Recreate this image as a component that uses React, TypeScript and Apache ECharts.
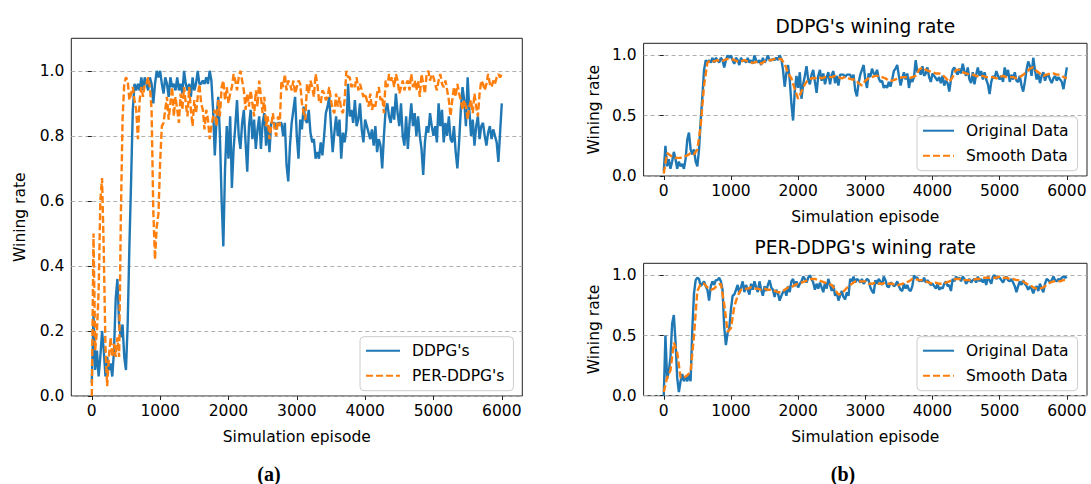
import React, { useEffect, useRef } from "react";
import * as echarts from "echarts";

// ---------- data ----------
const RAW_STEP = 25; // episodes between raw samples
const SMOOTH_STEP = 50; // episodes between smooth samples

const ddpgRate = [
  0.04, 0.25, 0.08, 0.14, 0.06, 0.12, 0.2, 0.14, 0.06, 0.12, 0.08, 0.1, 0.06, 0.14, 0.3, 0.36, 0.22, 0.18, 0.22, 0.12,
  0.08, 0.22, 0.46, 0.66, 0.88, 0.96, 0.94, 0.96, 0.94, 0.98, 0.94, 0.98, 0.96, 0.94, 0.98, 0.96, 0.9, 0.96, 1.0, 0.98,
  1.0, 0.96, 0.93, 0.98, 0.96, 0.92, 0.98, 0.95, 0.96, 0.94, 0.98, 0.94, 0.96, 0.93, 1.0, 0.96, 0.94, 0.96, 0.92, 0.98,
  0.94, 0.96, 1.0, 0.96, 0.96, 0.97, 0.96, 0.98, 0.96, 1.0, 0.97, 0.88, 0.74, 0.85, 0.92, 0.8, 0.6, 0.46, 0.7, 0.83,
  0.73, 0.86, 0.64, 0.76, 0.83, 0.91, 0.8, 0.76, 0.84, 0.88, 0.78, 0.69, 0.83, 0.88, 0.79, 0.85, 0.76, 0.82, 0.86, 0.76,
  0.84, 0.87, 0.77, 0.83, 0.75, 0.84, 0.84, 0.84, 0.82, 0.84, 0.84, 0.84, 0.8, 0.84, 0.71, 0.66, 0.77, 0.84, 0.88, 0.92,
  0.8, 0.73, 0.85, 0.82, 0.89, 0.85, 0.84, 0.88, 0.81, 0.78, 0.79, 0.73, 0.75, 0.73, 0.78, 0.74, 0.8, 0.87, 0.89, 0.92,
  0.83, 0.75, 0.81, 0.86, 0.8, 0.85, 0.73, 0.81, 0.78, 0.82, 0.96, 0.86, 0.88, 0.84, 0.91, 0.83, 0.85, 0.9, 0.82, 0.78,
  0.85, 0.83, 0.81, 0.79, 0.82, 0.77, 0.83, 0.75, 0.79, 0.77, 0.7, 0.8, 0.88, 0.9, 0.86, 0.84, 0.89, 0.85, 0.93, 0.87,
  0.83, 0.9, 0.8, 0.77, 0.86, 0.76, 0.84, 0.9, 0.83, 0.87, 0.8, 0.86, 0.8, 0.76, 0.68, 0.78, 0.83, 0.81, 0.87, 0.83,
  0.8, 0.83, 0.78, 0.9, 0.83, 0.88, 0.78, 0.84, 0.8, 0.86, 0.79, 0.78, 0.83, 0.75, 0.7, 0.78, 0.88, 0.95, 0.91, 0.83,
  0.98, 0.88, 0.8, 0.85, 0.77, 0.83, 0.86, 0.79, 0.83, 0.84, 0.8, 0.77, 0.81, 0.83, 0.79, 0.82, 0.8, 0.78, 0.72, 0.81,
  0.9,
];

const perRate = [
  0.0, 0.5, 0.14, 0.2, 0.32, 0.6, 0.67, 0.45, 0.15, 0.03, 0.12, 0.18, 0.12, 0.16, 0.12, 0.18, 0.12, 0.55, 0.85, 0.96,
  0.98, 0.97, 0.91, 0.93, 0.95, 0.91, 0.88, 0.79, 0.91, 0.95, 0.92, 0.96, 0.96, 0.98, 0.95, 0.88, 0.57, 0.42, 0.52, 0.56,
  0.72, 0.83, 0.84, 0.88, 0.92, 0.85, 0.9, 0.95, 0.86, 0.92, 0.88, 0.84, 0.93, 0.88, 0.95, 0.9, 0.86, 0.95, 0.88, 0.83,
  0.91, 0.87, 0.92, 0.96, 0.9, 0.88, 0.82, 0.88, 0.85, 0.79, 0.83, 0.86, 0.88, 0.83, 0.91, 0.86, 0.95, 0.97, 0.91, 0.95,
  0.9, 0.93, 0.95, 0.99, 0.97, 0.94, 0.98, 1.0, 0.97, 0.94, 0.88, 0.93, 0.89, 0.94, 0.9, 0.86, 0.94, 0.89, 0.97, 0.92,
  0.87, 0.92, 0.83, 0.86, 0.79, 0.83, 0.87, 0.82, 0.8, 0.86, 0.83, 0.97, 0.95, 0.99, 0.94, 0.97, 0.96, 0.94, 0.97, 0.93,
  0.95, 0.97, 0.96, 0.9, 0.87, 0.85, 0.96, 0.93, 0.97, 0.95, 0.92, 0.99, 0.96, 0.91, 0.9, 0.94, 0.93, 0.91, 0.92, 0.95,
  0.91, 0.88, 0.87, 0.93, 0.89, 0.92, 0.88, 0.87, 0.91, 1.0, 0.98, 0.98, 0.95, 0.96, 0.95, 0.98, 0.94, 0.96, 0.94, 0.92,
  0.93, 0.91, 0.89, 0.93, 0.88, 0.9, 0.89, 0.93, 0.95, 0.91, 0.92, 0.87, 0.97, 0.95, 0.99, 0.97, 0.98, 0.95, 0.99, 0.97,
  0.93, 0.95, 0.97, 0.94, 0.96, 0.97, 0.94, 0.99, 0.95, 0.97, 0.94, 0.97, 0.92, 0.99, 0.96, 0.93, 0.99, 1.0, 0.97, 0.99,
  0.98, 0.96, 0.94, 0.97, 0.99, 0.96, 0.95, 0.97, 0.94, 0.91, 0.86, 0.91, 0.95, 0.92, 0.96, 0.93, 0.91, 0.88, 0.91, 0.89,
  0.85, 0.89, 0.91, 0.87, 0.93, 0.89, 0.86, 0.93, 0.97, 0.96, 0.94, 0.96, 0.99, 0.96, 0.95, 0.97, 0.96, 0.98, 0.99, 0.98,
  0.99,
];

const ddpgSmooth = [
  0.02, 0.19, 0.17, 0.15, 0.15, 0.15, 0.16, 0.17, 0.19, 0.18, 0.22, 0.42, 0.75, 0.94, 0.96, 0.95, 0.96, 0.95, 0.96, 0.97,
  0.97, 0.96, 0.95, 0.95, 0.96, 0.95, 0.94, 0.94, 0.95, 0.93, 0.95, 0.96, 0.96, 0.97, 0.97, 0.97, 0.93, 0.85, 0.81, 0.72,
  0.64, 0.7, 0.76, 0.8, 0.81, 0.81, 0.82, 0.81, 0.82, 0.82, 0.82, 0.83, 0.82, 0.81, 0.82, 0.81, 0.8, 0.8, 0.77, 0.75,
  0.79, 0.81, 0.82, 0.83, 0.83, 0.82, 0.81, 0.79, 0.79, 0.8, 0.81, 0.82, 0.82, 0.81, 0.82, 0.83, 0.88, 0.9, 0.88, 0.87,
  0.86, 0.85, 0.85, 0.84, 0.81, 0.78, 0.82, 0.88, 0.88, 0.86, 0.85, 0.84, 0.84, 0.83, 0.82, 0.83, 0.82, 0.82, 0.82, 0.81,
  0.82, 0.83, 0.82, 0.82, 0.82, 0.81, 0.82, 0.84, 0.86, 0.89, 0.9, 0.87, 0.85, 0.83, 0.84, 0.85, 0.85, 0.84, 0.84, 0.82,
  0.81,
];

const perSmooth = [
  0.03, 0.15, 0.21, 0.44, 0.36, 0.15, 0.15, 0.17, 0.2, 0.5, 0.87, 0.93, 0.93, 0.9, 0.88, 0.89, 0.92, 0.93, 0.76, 0.53,
  0.56, 0.74, 0.83, 0.88, 0.89, 0.89, 0.9, 0.89, 0.89, 0.88, 0.89, 0.88, 0.88, 0.87, 0.86, 0.86, 0.88, 0.9, 0.9, 0.92,
  0.93, 0.94, 0.95, 0.96, 0.97, 0.97, 0.96, 0.95, 0.94, 0.93, 0.92, 0.88, 0.84, 0.85, 0.88, 0.91, 0.93, 0.95, 0.95, 0.95,
  0.95, 0.93, 0.93, 0.94, 0.93, 0.93, 0.94, 0.93, 0.93, 0.92, 0.92, 0.93, 0.94, 0.95, 0.97, 0.97, 0.96, 0.96, 0.95, 0.94,
  0.93, 0.94, 0.93, 0.93, 0.94, 0.95, 0.96, 0.97, 0.97, 0.96, 0.96, 0.96, 0.96, 0.97, 0.97, 0.98, 0.98, 0.98, 0.98, 0.98,
  0.99, 0.98, 0.98, 0.97, 0.97, 0.96, 0.96, 0.95, 0.93, 0.92, 0.9, 0.89, 0.89, 0.9, 0.92, 0.94, 0.95, 0.95, 0.95, 0.96,
  0.96,
];

const xTicks = [0, 1000, 2000, 3000, 4000, 5000, 6000];
const yTicksLeft = [0, 0.2, 0.4, 0.6, 0.8, 1.0];
const yTicksRight = [0, 0.5, 1.0];

const leftLegend = ["DDPG's", "PER-DDPG's"];
const rightLegend = ["Original Data", "Smooth Data"];

// ---------- styling ----------
const FONT = "DejaVu Sans";
const FS = 15.5;
const BLUE = "#1f77b4";
const ORANGE = "#ff7f0e";
const INK = "#222222";
const LW = 2.4;

const toPairs = (vals: number[], step: number) => vals.map((v, i) => [i * step, v]);

function xAxisFor(gridIndex: number) {
  return {
    gridIndex,
    type: "value",
    min: -300,
    max: 6300,
    name: "Simulation episode",
    nameLocation: "middle",
    nameGap: 33,
    nameTextStyle: { fontFamily: FONT, fontSize: FS, color: "#000" },
    axisLine: { show: false },
    axisTick: { show: true, inside: false, length: 4, lineStyle: { color: INK, width: 1 }, customValues: xTicks },
    axisLabel: {
      customValues: xTicks,
      fontFamily: FONT,
      fontSize: FS,
      color: "#000",
      margin: 7,
      formatter: (v: number) => String(v),
    },
    splitLine: { show: false },
  };
}

function yAxisFor(gridIndex: number, ticks: number[], nameGap: number) {
  return {
    gridIndex,
    type: "value",
    min: 0,
    max: 1.1,
    name: "Wining rate",
    nameLocation: "middle",
    nameRotate: 90,
    nameGap,
    nameTextStyle: { fontFamily: FONT, fontSize: FS, color: "#000" },
    axisLine: { show: false },
    axisTick: { show: true, inside: false, length: 4, lineStyle: { color: INK, width: 1 }, customValues: ticks },
    axisLabel: {
      customValues: ticks,
      fontFamily: FONT,
      fontSize: FS,
      color: "#000",
      margin: 7,
      formatter: (v: number) => v.toFixed(1),
    },
    splitLine: { show: true, lineStyle: { type: [4, 3], color: "#b0b0b0", width: 1 } },
  };
}

function legendFor(data: string[], left: number, top: number, itemWidth: number) {
  return {
    data,
    orient: "vertical",
    left,
    top,
    padding: [6, 9, 7, 5],
    itemWidth,
    itemHeight: 14,
    itemGap: 9,
    backgroundColor: "rgba(255,255,255,0.8)",
    borderColor: "#cccccc",
    borderWidth: 1,
    borderRadius: 4,
    selectedMode: false,
    itemStyle: { color: "rgba(0,0,0,0)", borderColor: "rgba(0,0,0,0)", borderWidth: 0, opacity: 0 },
    textStyle: { fontFamily: FONT, fontSize: FS, color: "#000", padding: [0, 0, 0, 7] },
  };
}

function solid(name: string, xi: number, data: number[][]) {
  return {
    type: "line",
    name,
    xAxisIndex: xi,
    yAxisIndex: xi,
    data,
    symbol: "none",
    showSymbol: false,
    color: BLUE,
    lineStyle: { color: BLUE, width: LW },
    z: 2,
  };
}

function dashed(name: string, xi: number, data: number[][]) {
  return {
    type: "line",
    name,
    xAxisIndex: xi,
    yAxisIndex: xi,
    data,
    symbol: "none",
    showSymbol: false,
    color: ORANGE,
    lineStyle: { color: ORANGE, width: LW, type: [7, 3] },
    z: 3,
  };
}

export default function App() {
  const ref = useRef<HTMLDivElement | null>(null);

  useEffect(() => {
    if (!ref.current) return;
    const chart = echarts.init(ref.current, undefined, { renderer: "svg" });

    const ddpgPairs = toPairs(ddpgRate, RAW_STEP);
    const perPairs = toPairs(perRate, RAW_STEP);
    const ddpgSmoothPairs = toPairs(ddpgSmooth, SMOOTH_STEP);
    const perSmoothPairs = toPairs(perSmooth, SMOOTH_STEP);

    const gridStyle = { show: true, borderColor: INK, borderWidth: 1, backgroundColor: "transparent", containLabel: false };

    chart.setOption({
      animation: false,
      backgroundColor: "#ffffff",
      grid: [
        { ...gridStyle, left: 71.3, top: 38.3, width: 451, height: 357.7 },
        { ...gridStyle, left: 643.6, top: 43.3, width: 443.4, height: 132.7 },
        { ...gridStyle, left: 643.6, top: 263.3, width: 443.4, height: 132.4 },
      ],
      xAxis: [xAxisFor(0), xAxisFor(1), xAxisFor(2)],
      yAxis: [yAxisFor(0, yTicksLeft, 43), yAxisFor(1, yTicksRight, 42), yAxisFor(2, yTicksRight, 42)],
      legend: [
        legendFor(leftLegend, 360, 336.7, 34),
        legendFor(rightLegend, 917, 116.7, 31),
        legendFor(rightLegend, 917, 336.7, 31),
      ],
      series: [
        solid(leftLegend[0], 0, ddpgPairs),
        dashed(leftLegend[1], 0, perPairs),
        solid(rightLegend[0], 1, ddpgPairs),
        dashed(rightLegend[1], 1, ddpgSmoothPairs),
        solid(rightLegend[0], 2, perPairs),
        dashed(rightLegend[1], 2, perSmoothPairs),
      ],
      graphic: [
        {
          type: "text",
          x: 865.3,
          y: 26.7,
          style: { text: "DDPG's wining rate", fontFamily: FONT, fontSize: 18.6, fill: "#000", align: "center", verticalAlign: "middle" },
        },
        {
          type: "text",
          x: 865.3,
          y: 247.3,
          style: { text: "PER-DDPG's wining rate", fontFamily: FONT, fontSize: 18.6, fill: "#000", align: "center", verticalAlign: "middle" },
        },
        {
          type: "text",
          x: 269,
          y: 474,
          style: { text: "(a)", fontFamily: "Liberation Serif", fontWeight: "bold", fontSize: 20, fill: "#000", align: "center", verticalAlign: "middle" },
        },
        {
          type: "text",
          x: 843,
          y: 474,
          style: { text: "(b)", fontFamily: "Liberation Serif", fontWeight: "bold", fontSize: 20, fill: "#000", align: "center", verticalAlign: "middle" },
        },
      ],
    });

    return () => chart.dispose();
  }, []);

  return <div ref={ref} style={{ position: "absolute", left: 0, top: 0, width: 1091, height: 484 }} />;
}
